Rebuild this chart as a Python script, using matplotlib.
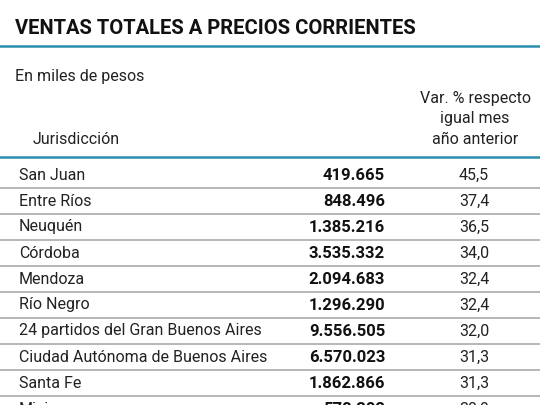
import matplotlib
matplotlib.use("Agg")
import matplotlib.pyplot as plt

jurisdicciones = ["San Juan", "Entre Ríos", "Neuquén", "Córdoba", "Mendoza", "Río Negro",
                  "24 partidos del Gran Buenos Aires", "Ciudad Autónoma de Buenos Aires",
                  "Santa Fe", "Misiones"]
ventas = ["419.665", "848.496", "1.385.216", "3.535.332", "2.094.683", "1.296.290",
          "9.556.505", "6.570.023", "1.862.866", "578.302"]
variacion = ["45,5", "37,4", "36,5", "34,0", "32,4", "32,4", "32,0", "31,3", "31,3", "30,9"]

fam = ["Roboto", "DejaVu Sans"]
plt.rcParams['font.family'] = fam

fig = plt.figure(figsize=(5.4, 4.05), dpi=100)
ax = fig.add_axes([0, 0, 1, 1])
ax.set_xlim(0, 540); ax.set_ylim(405, 0); ax.axis("off")

blue = "#2a8fb0"
ax.text(15, 29, "VENTAS TOTALES A PRECIOS CORRIENTES", fontsize=14.5, fontweight="bold",
        va="center", ha="left", color="#111111")
ax.plot([0, 540], [46, 46], color=blue, lw=1.8)
ax.text(15, 77, "En miles de pesos", fontsize=11.5, va="center", color="#222222")
ax.text(475, 98, "Var. % respecto", fontsize=11.5, va="center", ha="center", color="#222222")
ax.text(475, 119, "igual mes", fontsize=11.5, va="center", ha="center", color="#222222")
ax.text(475, 140, "año anterior", fontsize=11.5, va="center", ha="center", color="#222222")
ax.text(33, 140, "Jurisdicción", fontsize=11.5, va="center", color="#222222")
ax.plot([0, 540], [157, 157], color=blue, lw=1.8)

y0, dy = 175, 26
for i, (j, v, p) in enumerate(zip(jurisdicciones, ventas, variacion)):
    y = y0 + i * dy
    ax.text(19, y, j, fontsize=11.5, va="center", color="#222222")
    ax.text(385, y, v, fontsize=12, va="center", ha="right", fontweight="bold", color="#111111")
    ax.text(474, y, p, fontsize=11.5, va="center", ha="center", color="#222222")
    ax.plot([0, 540], [y + 13, y + 13], color="#aaaaaa", lw=1.2)

fig.savefig("out.png", dpi=100)
